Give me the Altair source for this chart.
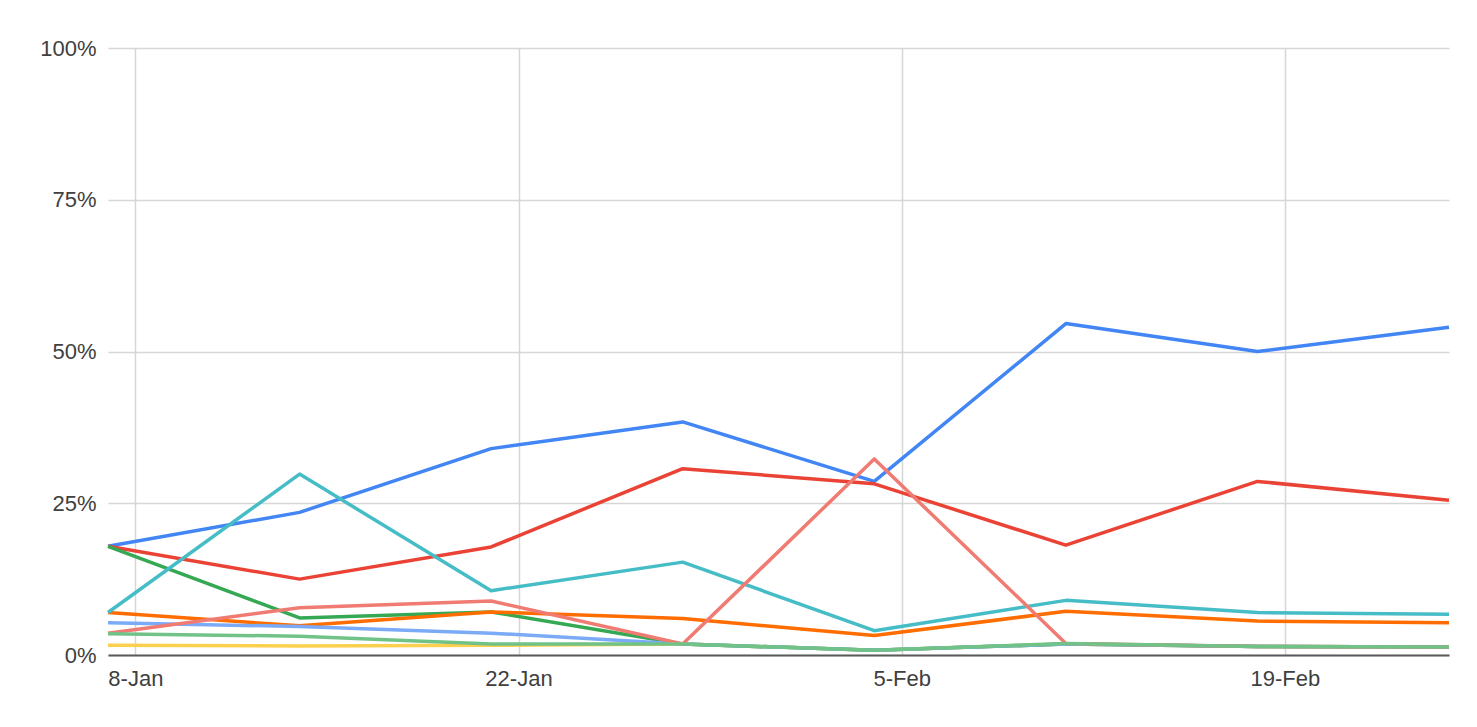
import altair as alt
import pandas as pd

dates = ["2024-01-07", "2024-01-14", "2024-01-21", "2024-01-28",
         "2024-02-04", "2024-02-11", "2024-02-18", "2024-02-25"]

s_blue = [17.9, 23.5, 34.0, 38.4, 28.6, 54.6, 50.0, 54.0]
s_red = [17.9, 12.5, 17.8, 30.7, 28.2, 18.1, 28.6, 25.5]
s_yellow = [1.6, 1.5, 1.6, 1.8, 0.8, 1.8, 1.4, 1.3]
s_green = [17.9, 6.1, 7.1, 1.8, 0.8, 1.8, 1.4, 1.3]
s_orange = [7.0, 4.8, 7.1, 6.0, 3.2, 7.2, 5.6, 5.3]
s_teal = [7.0, 29.8, 10.6, 15.3, 4.0, 9.0, 7.0, 6.7]
s_lightblue = [5.3, 4.7, 3.6, 1.8, 0.8, 1.8, 1.4, 1.3]
s_salmon = [3.6, 7.8, 8.9, 1.8, 32.3, 1.9, 1.4, 1.3]
s_lightgreen = [3.5, 3.1, 1.8, 1.8, 0.8, 1.9, 1.4, 1.3]

series_names = ["Series 1", "Series 2", "Series 3", "Series 4", "Series 5",
                "Series 6", "Series 7", "Series 8", "Series 9"]
series_values = [s_blue, s_red, s_yellow, s_green, s_orange, s_teal,
                 s_lightblue, s_salmon, s_lightgreen]
series_colors = ["#4285F4", "#EA4335", "#FCD04F", "#34A853", "#FF6D01",
                 "#46BDC6", "#7BAAF7", "#F07B72", "#71C287"]

tick_dates = [("Jan", 8), ("Jan", 22), ("Feb", 5), ("Feb", 19)]

rows = []
for order, (name, vals) in enumerate(zip(series_names, series_values)):
    for d, v in zip(dates, vals):
        rows.append({"series": name, "order": order, "date": d, "value": v / 100.0})
df = pd.DataFrame(rows)

chart = alt.Chart(df).mark_line(strokeWidth=3.5, strokeJoin="round").encode(
    x=alt.X(
        "date:T",
        scale=alt.Scale(
            type="utc",
            domain=[alt.DateTime(year=2024, month="Jan", date=7, utc=True),
                    alt.DateTime(year=2024, month="Feb", date=25, utc=True)],
        ),
        axis=alt.Axis(
            values=[alt.DateTime(year=2024, month=m, date=d, utc=True)
                    for m, d in tick_dates],
            format="%-d-%b",
            title=None,
            grid=True,
            gridColor="#d6d6d6",
            gridWidth=1.5,
            ticks=False,
            domain=True,
            domainColor="#5a5a5a",
            domainWidth=2,
            labelPadding=13,
            labelFontSize=22,
            labelColor="#404040",
            labelFont="Liberation Sans",
        ),
    ),
    y=alt.Y(
        "value:Q",
        scale=alt.Scale(domain=[0, 1], nice=False),
        axis=alt.Axis(
            values=[0, 0.25, 0.5, 0.75, 1.0],
            format=".0%",
            title=None,
            grid=True,
            gridColor="#d6d6d6",
            gridWidth=1.5,
            ticks=False,
            domain=False,
            labelPadding=12,
            labelFontSize=22,
            labelColor="#404040",
            labelFont="Liberation Sans",
        ),
    ),
    color=alt.Color(
        "series:N",
        scale=alt.Scale(domain=series_names, range=series_colors),
        legend=None,
    ),
    order=alt.Order("order:Q"),
).properties(
    width=1341,
    height=607,
    autosize=alt.AutoSizeParams(type="none"),
    padding={"left": 100, "top": 40, "right": 20, "bottom": 60},
).configure(background="white").configure_view(strokeWidth=0)

chart.save("out.html", embed_options={"renderer": "svg", "actions": False})
